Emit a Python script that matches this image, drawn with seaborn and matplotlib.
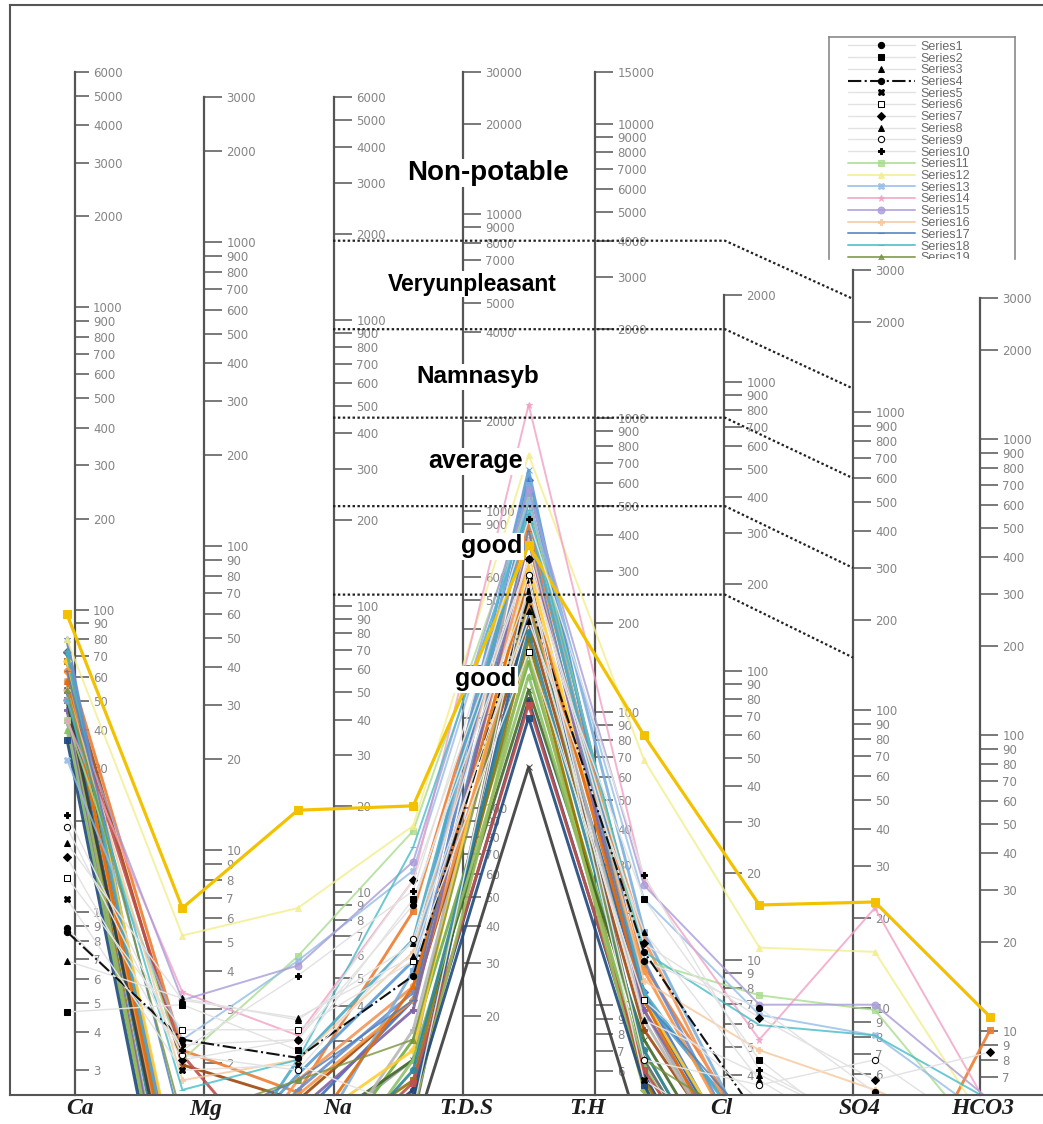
"""
Schoeller diagram - drinking water quality classes
Recreated with seaborn / matplotlib
"""

import numpy as np
import pandas as pd
import matplotlib
matplotlib.use('Agg')
import matplotlib.pyplot as plt
import seaborn as sns
from matplotlib.lines import Line2D
from matplotlib.text import Text
from matplotlib.ticker import NullLocator

# ── Data ─────────────────────────────────────────────────────────────────────
CATEGORIES = ['Ca', 'Mg', 'Na', 'K', 'TDS', 'TH', 'Cl', 'SO4', 'HCO3']
SERIES = [f'Series{i}' for i in range(1, 47)]

CA = [3.6, 1.89, 2.8, 3.5, 4.5, 5.3, 6.2, 6.9, 7.8, 8.6,
      17.8, 33, 13.1, 17.8, 20.7, 22.4, 26, 20.7, 22.4, 40,
      30, 28, 33, 24, 20.7, 22.4, 26, 30, 20.7, 17.8,
      28, 33, 24, 17.8, 28, 20.7, 16.5, 22.4, 30, 26,
      19.2, 20.7, 15.3, 24, 22.4, 20.7]
MG = [1.47, 2.0, 2.1, 1.53, 1.21, 1.65, 1.31, 2.07, 1.36, 1.41,
      1.31, 3.4, 1.53, 2.2, 2.07, 1.12, 0.76, 1.04, 0.83, 4.2,
      0.30, 1.41, 0.24, 0.45, 0.21, 0.28, 1.26, 0.35, 0.22, 0.19,
      0.26, 0.38, 0.33, 0.24, 0.45, 0.30, 0.21, 1.36, 0.35, 0.28,
      0.22, 0.19, 0.18, 0.35, 0.26, 0.30]
NA = [1.53, 1.41, 1.78, 1.33, 1.26, 1.65, 1.53, 1.81, 1.21, 2.5,
      2.9, 4.2, 2.8, 1.58, 2.7, 1.31, 1.12, 1.31, 1.12, 8.9,
      0.83, 1.02, 0.66, 1.17, 0.45, 0.52, 0.96, 0.76, 0.61, 0.41,
      0.71, 1.04, 1.12, 0.45, 0.76, 0.56, 0.38, 0.48, 1.31, 1.0,
      0.89, 0.33, 0.52, 0.66, 0.45, 0.76]
K = [4.3, 4.5, 3.2, 2.5, 0.89, 2.8, 5.2, 2.9, 3.3, 4.8,
     7.6, 7.9, 5.6, 5.2, 6.0, 3.0, 2.07, 6.7, 1.53, 9.2,
     2.07, 4.1, 1.31, 2.8, 1.53, 1.04, 2.07, 0.83, 1.12, 0.96,
     1.31, 2.2, 2.3, 1.65, 1.41, 2.6, 1.31, 1.10, 3.3, 2.07,
     1.92, 0.89, 0.96, 2.3, 1.21, 0.73]
TDS = [61, 48, 38, 45, 52, 30, 61, 41, 54, 83,
       96, 136, 96, 200, 104, 71, 76, 89, 45, 68,
       112, 79, 100, 121, 27.8, 20.7, 38, 54, 33, 41,
       22.4, 96, 61, 48, 58, 108, 25, 20, 86, 43,
       71, 30, 18.1, 52, 35, 12.4]
TH = [2.8, 4.5, 3.5, 3.0, 1.12, 2.07, 3.2, 1.78, 1.31, 5.4,
      2.8, 13.1, 4.5, 5.2, 5.0, 2.4, 2.07, 3.0, 1.31, 15.8,
      2.2, 2.7, 1.92, 2.07, 1.41, 1.17, 1.65, 1.31, 1.12, 2.07,
      1.53, 2.8, 3.3, 1.78, 2.07, 3.5, 1.26, 1.21, 2.2, 2.6,
      1.92, 1.04, 1.08, 2.07, 1.41, 0.68]
CL = [1.95, 1.31, 1.12, 0.83, 0.66, 0.96, 1.81, 1.17, 1.08, 1.21,
      2.15, 3.1, 1.85, 1.53, 2.0, 1.41, 0.76, 1.71, 0.76, 4.3,
      0.45, 0.66, 0.38, 0.71, 0.30, 0.24, 0.45, 0.30, 0.28, 0.45,
      0.35, 0.52, 0.56, 0.41, 0.48, 0.61, 0.26, 0.33, 0.66, 0.52,
      0.45, 0.24, 0.22, 0.38, 0.30, 0.30]
SO4 = [1.02, 0.66, 0.66, 0.66, 0.61, 0.66, 1.12, 0.76, 1.31, 0.76,
       1.92, 3.0, 1.58, 4.2, 2.0, 1.04, 0.61, 1.58, 0.61, 4.4,
       0.30, 0.30, 0.24, 0.45, 0.21, 0.21, 0.21, 0.21, 0.21, 0.21,
       0.21, 0.21, 0.21, 0.21, 0.21, 0.21, 0.21, 0.21, 0.21, 0.21,
       0.21, 0.21, 0.21, 0.21, 0.21, 0.21]
HCO3 = [0.71, 0.66, 0.66, 0.66, 0.61, 0.66, 1.39, 0.66, 0.71, 0.66,
        0.66, 0.76, 0.83, 0.89, 0.96, 0.71, 0.61, 0.96, 0.61, 1.82,
        0.30, 1.65, 0.24, 0.21, 0.21, 0.21, 0.21, 0.21, 0.21, 0.21,
        0.21, 0.21, 0.21, 0.21, 0.21, 0.21, 0.21, 0.21, 0.21, 0.21,
        0.21, 0.21, 0.21, 0.21, 0.21, 0.21]

# Schoeller scales (value at top of each axis, value at base line)
AXIS_NAMES = ['Ca', 'Mg', 'Na', 'T.D.S', 'T.H', 'Cl', 'SO4', 'HCO3']
AXIS_TOP = [6000, 3000, 6000, 30000, 15000, 2000, 3000, 3000]
AXIS_BOTTOM = [2.48, 1.57, 1.95, 10.8, 4.96, 3.4, 5.1, 6.1]
AXIS_FIRST_TICK = [3, 2, 3, 20, 6, 4, 6, 7]
# T.D.S tick labels that sit under the class text boxes
TDS_HIDDEN = [700, 3000, 6000]

# water quality class limits (T.H scale -> SO4 scale)
BOUND_TH = [4000, 2000, 1000, 500, 250]
BOUND_SO4 = [2400, 1200, 600, 300, 150]
CLASS_LABELS = ['Non-potable', 'Veryunpleasant', 'Namnasyb', 'average', 'good', 'good']

# ── Styles ───────────────────────────────────────────────────────────────────
FAINT = '#e2e2e2'
COLORS = [FAINT, FAINT, FAINT, '#111111', FAINT,
          FAINT, FAINT, FAINT, FAINT, FAINT,
          '#a9dc8f', '#f3ee8c', '#93bde6', '#f2a0c4', '#a99bd8',
          '#f6c79b', '#4a7ebb', '#45bcc6', '#77933c',
          '#f2c200',
          '#4472c4', '#ed7d31', '#a5a5a5', '#5b9bd5', '#70ad47',
          '#264478', '#9e480e', '#636363', '#997300', '#255e91',
          '#43682b', '#698ed0', '#f1975a', '#b7b7b7', '#ffcd33',
          '#7cafdd', '#8cc168', '#c0504d', '#4bacc6', '#f79646',
          '#8064a2', '#9bbb59', '#1f497d', '#e46c0a', '#31859c', '#3a3a3a']
MARKERS = ['o', 's', '^', 'o', 'X', 's', 'D', '^', 'o', 'P',
           's', '^', 'X', '*', 'o', 'P', '_', '_', '^',
           's',
           'D', 's', '^', 'x', '*', 'o', 'P', 'D', 's', '^',
           'x', '*', 'o', 'P', 'D', 's', '^', 's', '*', 'o',
           'P', 'D', 's', '^', 'o', 'x']

W, H = 1043, 1124
BASE_PX = 1095
AXIS_X = [75, 204, 334, 463, 595, 724, 853, 980]
AXIS_TOP_PX = [72, 97, 97, 72, 72, 295, 270, 298]
AXIS_TICKLEN = [10, 13, 13, 13, 13, 13, 13, 13]
BOTTOM_LABEL_X = [80, 206, 338, 466, 588, 721, 860, 983]
CLASS_POS = [(488, 173), (472, 284), (478, 377), (476, 461), (492, 546), (486, 679)]
CLASS_SIZE = [20, 16.5, 17.5, 18, 18, 18]


def fx(px):
    return px / W


def fy(py):
    return 1 - py / H


def log_ticks(lo, hi):
    out = []
    for e in range(0, 5):
        for k in range(1, 10):
            v = k * 10 ** e
            if lo <= v <= hi:
                out.append(v)
    if hi not in out:
        out.append(hi)
    return out


sns.set_theme(style='white')
plt.rcParams['font.family'] = ['DejaVu Sans']

table = pd.DataFrame({'Ca': CA, 'Mg': MG, 'Na': NA, 'K': K, 'TDS': TDS,
                      'TH': TH, 'Cl': CL, 'SO4': SO4, 'HCO3': HCO3}, index=SERIES)

fig = plt.figure(figsize=(W / 100, H / 100), dpi=100)
fig.patch.set_facecolor('white')

# ── Schoeller vertical scales ────────────────────────────────────────────────
scale_axes = []
for i, name in enumerate(AXIS_NAMES):
    sax = fig.add_axes([fx(AXIS_X[i]) - 0.002, fy(BASE_PX), 0.002,
                        (BASE_PX - AXIS_TOP_PX[i]) / H], zorder=1)
    sax.set_yscale('log')
    sax.set_ylim(AXIS_BOTTOM[i], AXIS_TOP[i])
    ticks = log_ticks(AXIS_FIRST_TICK[i], AXIS_TOP[i])
    labels = [f'{t:g}' for t in ticks]
    if name == 'T.D.S':
        labels = ['' if t in TDS_HIDDEN else l for t, l in zip(ticks, labels)]
    sax.set_yticks(ticks, labels=labels)
    sax.yaxis.set_minor_locator(NullLocator())
    sax.yaxis.tick_right()
    sax.set_xticks([])
    sax.patch.set_visible(False)
    for s in ['left', 'top', 'bottom']:
        sax.spines[s].set_visible(False)
    sax.spines['right'].set_color('#555555')
    sax.spines['right'].set_linewidth(1.6)
    sax.tick_params(axis='y', which='major', direction='out', length=AXIS_TICKLEN[i],
                    width=1.1, color='#555555', labelcolor='#858585', labelsize=8.5,
                    pad=3, right=True, left=False, labelright=True, labelleft=False)
    scale_axes.append(sax)

# ── Series (pasted line chart) ───────────────────────────────────────────────
ax = fig.add_axes([fx(10), fy(BASE_PX), fx(1043) - fx(10), (BASE_PX - 5) / H], zorder=2)
ax.set_yscale('log')
x_pos = np.arange(len(CATEGORIES))

handles = {}
order = list(range(20, 46)) + list(range(10, 20)) + list(range(0, 10))
for i in order:
    name = SERIES[i]
    vals = table.loc[name, CATEGORIES].values.astype(float)
    kw = dict(color=COLORS[i], marker=MARKERS[i])
    if i < 10:
        kw.update(lw=1.0, markersize=4.5, markerfacecolor='black', markeredgecolor='black')
        if i in (5, 8):
            kw.update(markerfacecolor='white')
        if i == 3:
            kw.update(lw=1.5, linestyle='-.')
    elif i < 19:
        kw.update(lw=1.4, alpha=0.8, markersize=5, markeredgecolor=COLORS[i])
    elif i == 19:
        kw.update(lw=2.3, markersize=6, markeredgecolor=COLORS[i])
    else:
        kw.update(lw=2.1, alpha=0.9, markersize=4.5, markeredgecolor=COLORS[i])
    sns.lineplot(x=x_pos, y=vals, ax=ax, legend=False, sort=False, errorbar=None, **kw)
    handles[name] = ax.lines[-1]

ax.set_xlim((10 - 67) / 115.4, (1043 - 67) / 115.4)
ax.set_ylim(1, 10 ** ((BASE_PX - 5) / 300))
ax.set_xticks([])
ax.set_yticks([])
ax.yaxis.set_minor_locator(NullLocator())
ax.set_xlabel('')
ax.set_ylabel('')
ax.patch.set_alpha(0)
for s in ['left', 'top', 'bottom']:
    ax.spines[s].set_color('#555555')
    ax.spines[s].set_linewidth(1.5)
ax.spines['right'].set_visible(False)

# ── Quality class boundaries (dotted) ────────────────────────────────────────
to_fig = fig.transFigure.inverted()
th_ax, so4_ax = scale_axes[4], scale_axes[6]
for v_th, v_so4 in zip(BOUND_TH, BOUND_SO4):
    _, y1 = to_fig.transform(th_ax.transData.transform((0.5, v_th)))
    _, y2 = to_fig.transform(so4_ax.transData.transform((0.5, v_so4)))
    fig.add_artist(Line2D([fx(333), fx(725), fx(853)], [y1, y1, y2],
                          transform=fig.transFigure, color='#222222', lw=1.6,
                          ls=(0, (1.1, 1.1)), zorder=4))

# ── Class labels ─────────────────────────────────────────────────────────────
for label, (px, py), size in zip(CLASS_LABELS, CLASS_POS, CLASS_SIZE):
    fig.text(fx(px), fy(py), label, ha='center', va='center', fontsize=size,
             fontweight='bold', family='Liberation Sans', color='black', zorder=6,
             bbox=dict(facecolor='white', edgecolor='none', pad=1.0))

# ── Bottom axis names ────────────────────────────────────────────────────────
for name, px in zip(AXIS_NAMES, BOTTOM_LABEL_X):
    fig.text(fx(px), fy(1109), name, ha='center', va='center', fontsize=17,
             fontweight='bold', fontstyle='italic', family='Liberation Serif',
             color='#1e1e1e', zorder=6)

# ── Legend (cut off at bottom as in original) ────────────────────────────────
lax = fig.add_axes([fx(829), fy(259), fx(1015) - fx(829), (259 - 37) / H], zorder=3)
lax.set_xticks([])
lax.set_yticks([])
lax.set_facecolor('white')
for s in ['left', 'right', 'top']:
    lax.spines[s].set_color('#8a8a8a')
    lax.spines[s].set_linewidth(1.2)
lax.spines['bottom'].set_visible(False)
leg_names = SERIES[:19]
leg = lax.legend([handles[n] for n in leg_names], leg_names, loc='upper left',
                 bbox_to_anchor=(0.08, 1.0), frameon=False,
                 prop={'family': 'Liberation Sans', 'size': 9}, labelcolor='#6a6a6a',
                 handlelength=5.4, handletextpad=0.45, labelspacing=-0.02,
                 borderaxespad=0.0, borderpad=0.3)
for a in leg.findobj(lambda o: isinstance(o, (Line2D, Text))):
    a.set_clip_box(lax.bbox)
    a.set_clip_on(True)

fig.savefig('out.png', dpi=100)
plt.close(fig)
